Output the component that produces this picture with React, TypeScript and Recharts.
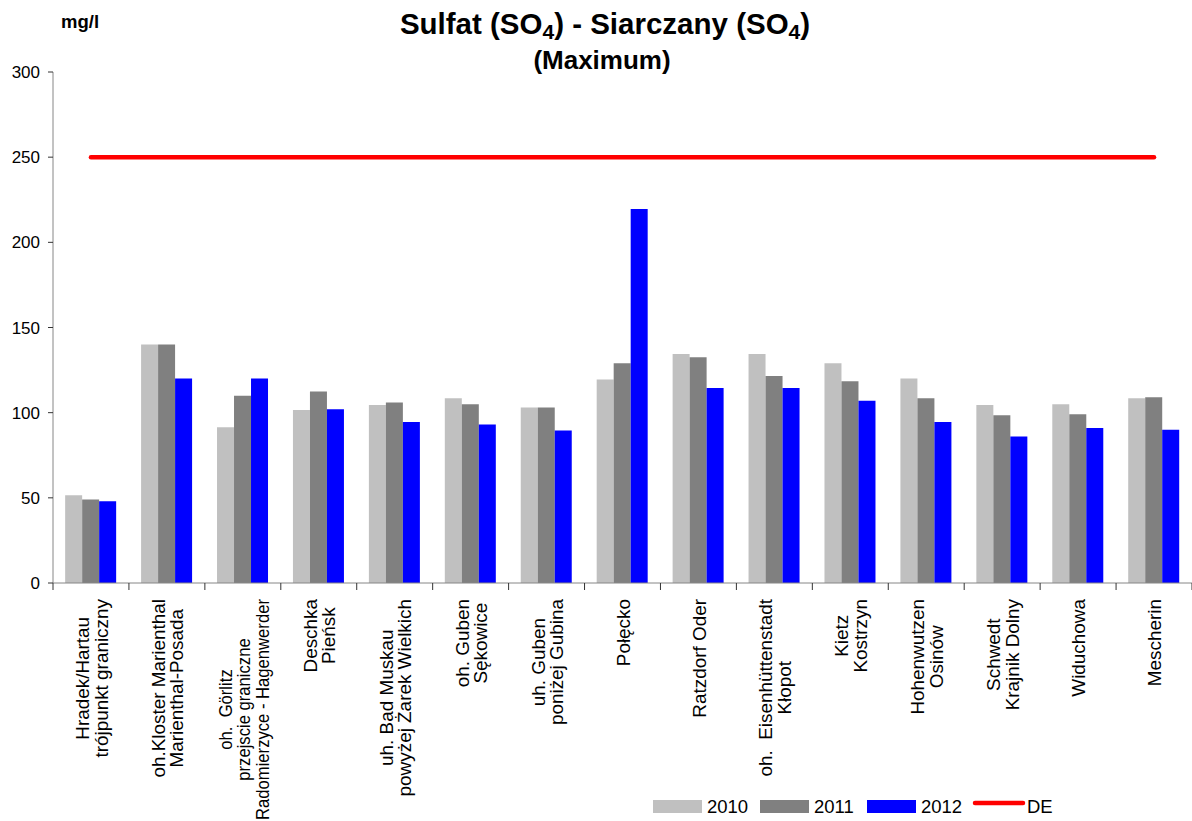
import React from "react";
import { ComposedChart, Bar, Line, XAxis, YAxis } from "recharts";

const stations = [
  "Hradek/Hartau\ntrójpunkt graniczny",
  "oh.Kloster Marienthal\nMarienthal-Posada",
  "oh.  Görlitz\nprzejscie graniczne\nRadomierzyce - Hagenwerder",
  "Deschka\nPieńsk",
  "uh. Bad Muskau\npowyżej Żarek Wielkich",
  "oh. Guben\nSękowice",
  "uh. Guben\nponiżej Gubina",
  "Połęcko",
  "Ratzdorf Oder",
  "oh.  Eisenhüttenstadt\nKłopot",
  "Kietz\nKostrzyn",
  "Hohenwutzen\nOsinów",
  "Schwedt\nKrajnik Dolny",
  "Widuchowa",
  "Mescherin",
];

const max2010 = [51.5, 140, 91.5, 101.5, 104.5, 108.5, 103, 119.5, 134.5, 134.5, 129, 120, 104.5, 105, 108.5];
const max2011 = [49, 140, 110, 112.5, 106, 105, 103, 129, 132.5, 121.5, 118.5, 108.5, 98.5, 99, 109];
const max2012 = [48, 120, 120, 102, 94.5, 93, 89.5, 219.5, 114.5, 114.5, 107, 94.5, 86, 91, 90];
const limitDE = [250, 250, 250, 250, 250, 250, 250, 250, 250, 250, 250, 250, 250, 250, 250];

const yTicks = [0, 50, 100, 150, 200, 250, 300];

const data = stations.map((station, i) => ({
  station,
  y2010: max2010[i],
  y2011: max2011[i],
  y2012: max2012[i],
  de: limitDE[i],
}));

const FONT = '"Liberation Sans", Arial, Helvetica, sans-serif';
const W = 1192;
const H = 821;
const AXIS_W = 53;
const LABEL_FS = 17.5;
const LABEL_LH = 18.5;
const STRETCH = 1.08;

let ctx: CanvasRenderingContext2D | null = null;
function textWidth(s: string, font: string) {
  if (!ctx) ctx = document.createElement("canvas").getContext("2d");
  if (!ctx) return s.length * 9;
  ctx.font = font;
  return ctx.measureText(s).width;
}

// category label: rotated, lines centred on each other, block hangs below the axis
function StationTick(props: any) {
  const { x, y, payload, index } = props;
  const half = payload?.offset || (W - AXIS_W) / stations.length / 2;
  const lines = String(payload.value).split("\n");
  const n = lines.length;
  const raw = Math.max(...lines.map((l) => textWidth(l, `${LABEL_FS}px "Liberation Sans"`)));
  const top = y + 16;
  const s = Math.min(STRETCH, (H - top - 1) / raw);
  const w = raw * s;
  return (
    <g>
      <line x1={x - half} x2={x - half} y1={y} y2={y + 7} stroke="#333" />
      {index === stations.length - 1 && (
        <line x1={x + half} x2={x + half} y1={y} y2={y + 7} stroke="#333" />
      )}
      <g transform={`translate(${x + 1},${top + w / 2})`}>
        <text
          transform={`rotate(-90) scale(${s},1)`}
          textAnchor="middle"
          fontSize={LABEL_FS}
          fontFamily={FONT}
          fill="#000"
          style={{ whiteSpace: "pre" }}
        >
          {lines.map((l, i) => (
            <tspan key={i} x={0} y={(i - (n - 1) / 2) * LABEL_LH + 0.36 * LABEL_FS}>
              {l}
            </tspan>
          ))}
        </text>
      </g>
    </g>
  );
}

const legendItems = [
  { name: "2010", color: "#C0C0C0", x: 653 },
  { name: "2011", color: "#808080", x: 760 },
  { name: "2012", color: "#0000FF", x: 867 },
];

export default function App() {
  return (
    <div style={{ position: "absolute", left: 0, top: 0, width: W, height: H, background: "#fff" }}>
      <ComposedChart
        width={W}
        height={H}
        data={data}
        margin={{ top: 72, right: 0, left: 0, bottom: 0 }}
        barCategoryGap="16%"
        barGap={0}
      >
        <XAxis
          dataKey="station"
          interval={0}
          height={238}
          tickSize={0}
          tickMargin={0}
          tickLine={false}
          axisLine={{ stroke: "#868686" }}
          tick={(p: any) => <StationTick {...p} />}
        />
        <YAxis
          width={AXIS_W}
          domain={[0, 300]}
          ticks={yTicks}
          interval={0}
          tickSize={5}
          tickMargin={8}
          axisLine={{ stroke: "#868686" }}
          tickLine={{ stroke: "#333" }}
          tick={{ fontSize: 17, fill: "#000", fontFamily: FONT }}
        />
        <Bar dataKey="y2010" name="2010" fill="#C0C0C0" isAnimationActive={false} />
        <Bar dataKey="y2011" name="2011" fill="#808080" isAnimationActive={false} />
        <Bar dataKey="y2012" name="2012" fill="#0000FF" isAnimationActive={false} />
        <Line
          dataKey="de"
          name="DE"
          stroke="#FF0000"
          strokeWidth={4.5}
          strokeLinecap="round"
          dot={false}
          activeDot={false}
          isAnimationActive={false}
        />
      </ComposedChart>
      <svg
        width={W}
        height={H}
        style={{ position: "absolute", left: 0, top: 0, pointerEvents: "none" }}
        fontFamily={FONT}
      >
        <text x={61} y={28} fontSize={18.5} fontWeight="bold">
          mg/l
        </text>
        <text x={605} y={33.5} fontSize={29.5} fontWeight="bold" textAnchor="middle">
          Sulfat (SO
          <tspan dy={5} fontSize={21}>4</tspan>
          <tspan dy={-5}>) - Siarczany (SO</tspan>
          <tspan dy={5} fontSize={21}>4</tspan>
          <tspan dy={-5}>)</tspan>
        </text>
        <text x={602} y={69} fontSize={26} fontWeight="bold" textAnchor="middle">
          (Maximum)
        </text>
        {legendItems.map((it) => (
          <g key={it.name}>
            <rect x={it.x} y={800} width={49} height={13} fill={it.color} />
            <text x={it.x + 54} y={813} fontSize={18.5}>
              {it.name}
            </text>
          </g>
        ))}
        <line x1={975} x2={1023} y1={803} y2={803} stroke="#FF0000" strokeWidth={4.5} strokeLinecap="round" />
        <text x={1027} y={813} fontSize={18.5}>
          DE
        </text>
      </svg>
    </div>
  );
}
